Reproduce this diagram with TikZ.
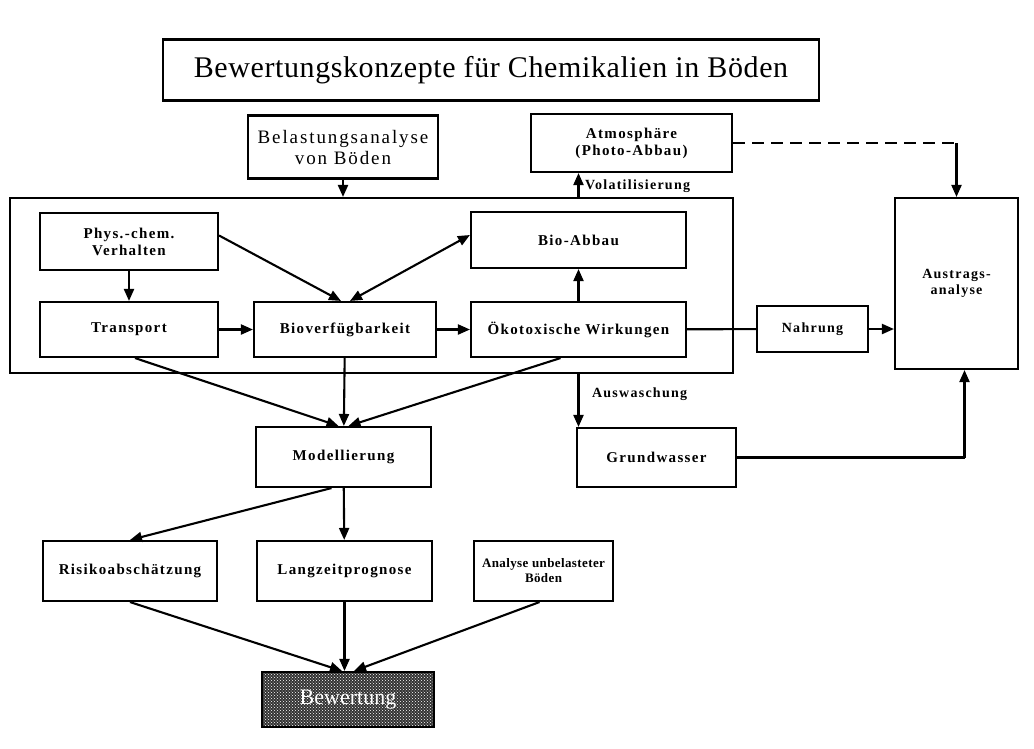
\documentclass[tikz,border=0pt]{standalone}
\usepackage{fontspec}
\setmainfont{Liberation Serif}
\usetikzlibrary{arrows.meta,patterns}
\newcommand{\boxfont}{\fontsize{15}{17}\selectfont\bfseries\addfontfeature{LetterSpace=9}}
\newcommand{\smallboxfont}{\fontsize{14}{16}\selectfont\bfseries\addfontfeature{LetterSpace=9}}
\begin{document}
\begin{tikzpicture}[x=1pt, y=-1pt, line width=2.1pt,
    box/.style={draw, inner sep=2pt, align=center, font=\boxfont},
    arr/.style={-{Triangle[length=12pt,width=10pt]}},
    lbl/.style={inner sep=1pt, anchor=west, font=\smallboxfont}]
      \useasboundingbox (0,0) rectangle (1034,748);
      \node[box, minimum width=656, minimum height=61, font=\fontsize{30}{34}\selectfont\addfontfeature{LetterSpace=2}] (title) at (491,70) {Bewertungskonzepte für Chemikalien in Böden};
      \node[box, minimum width=190, minimum height=63, font=\fontsize{19}{21}\selectfont\addfontfeature{LetterSpace=10}] (belast) at (343,147) {Belastungsanalyse\\von Böden};
      \node[box, minimum width=201, minimum height=58] (atmos) at (631.5,143) {Atmosphäre\\(Photo-Abbau)};
      \node[draw, minimum width=723, minimum height=175, inner sep=0] (soil) at (371.5,285.5) {};
      \node[box, minimum width=178, minimum height=57] (phys) at (129,241.5) {Phys.-chem.\\Verhalten};
      \node[box, minimum width=178, minimum height=55] (trans) at (129,329.5) {Transport};
      \node[box, minimum width=182, minimum height=55] (biov) at (345,329.5) {Bioverfügbarkeit};
      \node[box, minimum width=215, minimum height=56] (bioab) at (578.5,240) {Bio-Abbau};
      \node[box, minimum width=215, minimum height=55] (oeko) at (578.5,329.5) {Ökotoxische Wirkungen};
      \node[box, minimum width=111, minimum height=46, font=\smallboxfont] (nahr) at (812.5,329) {Nahrung};
      \node[box, minimum width=123, minimum height=171, font=\smallboxfont] (austr) at (956.5,283.5) {Austrags-\\analyse};
      \node[box, minimum width=159, minimum height=59] (grund) at (656.5,457.5) {Grundwasser};
      \node[box, minimum width=175, minimum height=60] (modell) at (343.5,457) {Modellierung};
      \node[box, minimum width=174, minimum height=60] (risiko) at (130,571) {Risikoabschätzung};
      \node[box, minimum width=175, minimum height=60] (langz) at (344.5,571) {Langzeitprognose};
      \node[box, minimum width=139, minimum height=60, font=\fontsize{13}{15}\selectfont\bfseries\addfontfeature{LetterSpace=3}] (unbel) at (543.5,571) {Analyse unbelasteter\\Böden};
      \node[box, minimum width=172, minimum height=55, preaction={fill=black!80}, pattern=crosshatch dots, pattern color=white, text=white, font=\fontsize{22}{24}\selectfont] (bewert) at (348,699.5) {Bewertung};
      \draw[arr] (belast) -- (belast |- soil.north);
      \draw[arr] (oeko |- soil.north) -- (oeko |- atmos.south);
      \node[lbl] (vol) at (583,186) {Volatilisierung};
      \draw[dashed, dash pattern=on 12pt off 7pt] (atmos.east) -- (austr.north |- atmos.east);
      \draw[arr] (austr.north |- atmos.east) -- (austr.north);
      \draw[arr] (phys) -- (trans);
      \draw[arr] ([yshift=6]phys.east) -- ([xshift=-4]biov.north);
      \draw[arr] (trans) -- (biov);
      \draw[arr] (biov) -- (oeko);
      \draw[{Triangle[length=12pt,width=10pt]}-{Triangle[length=12pt,width=10pt]}] ([xshift=5]biov.north) -- ([yshift=5]bioab.west);
      \draw[arr] (oeko) -- (bioab);
      \draw (oeko) -- (nahr);
      \draw[arr] (nahr) -- (austr.west |- nahr);
      \draw[arr] (oeko |- soil.south) -- (oeko |- grund.north);
      \node[lbl] (ausw) at (590,394) {Auswaschung};
      \draw (grund.east) -- ([xshift=8]austr.south |- grund.east);
      \draw[arr] ([xshift=8]austr.south |- grund.east) -- ([xshift=8]austr.south);
      \draw[arr] ([xshift=6]trans.south) -- ([xshift=-5]modell.north);
      \draw[arr] (biov) -- (modell);
      \draw[arr] ([xshift=-18]oeko.south) -- ([xshift=5]modell.north);
      \draw[arr] ([xshift=-12]modell.south) -- (risiko.north);
      \draw[arr] (modell) -- (langz);
      \draw[arr] (risiko.south) -- ([xshift=-6]bewert.north);
      \draw[arr] (langz.south) -- (langz.south |- bewert.north);
      \draw[arr] ([xshift=-4]unbel.south) -- ([xshift=6]bewert.north);
   \end{tikzpicture}
\end{document}
